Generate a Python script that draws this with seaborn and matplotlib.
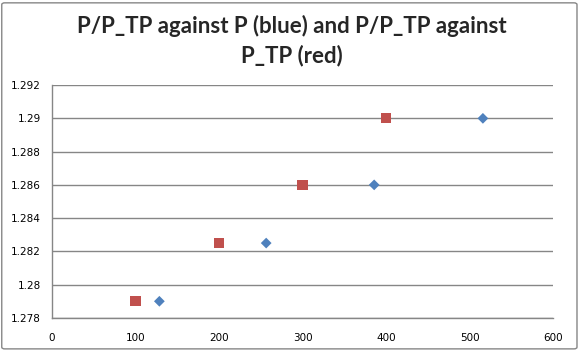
import matplotlib
matplotlib.use("Agg")
import matplotlib.pyplot as plt
import seaborn as sns
import pandas as pd
from matplotlib.patches import FancyBboxPatch

# data
ratio = [1.279, 1.2825, 1.286, 1.29]
p_values = [128.6, 256.5, 385.8, 516.0]
p_tp_values = [100, 200, 300, 400]

df = pd.concat([
    pd.DataFrame({"x": p_values, "y": ratio, "series": "P"}),
    pd.DataFrame({"x": p_tp_values, "y": ratio, "series": "P_TP"}),
])

sns.set_style("white")
plt.rcParams["font.family"] = ["DejaVu Sans"]

fig = plt.figure(figsize=(5.84, 3.56), dpi=100)
ax = fig.add_axes([0.089, 0.107, 0.858, 0.654])

sns.scatterplot(data=df, x="x", y="y", hue="series", style="series", size="series",
                markers={"P": "D", "P_TP": "s"},
                palette={"P": "#4F81BD", "P_TP": "#C0504D"},
                sizes={"P": 30, "P_TP": 54}, linewidth=0, legend=False, ax=ax)

ax.set_xlim(0, 600)
ax.set_ylim(1.278, 1.292)
ax.set_xticks(range(0, 601, 100))
yt = [1.278, 1.28, 1.282, 1.284, 1.286, 1.288, 1.29, 1.292]
ax.set_yticks(yt)
ax.set_yticklabels([f"{v:g}" for v in yt])
ax.set_xlabel("")
ax.set_ylabel("")
ax.yaxis.grid(True, color="#868686", linewidth=1)
ax.xaxis.grid(False)
ax.set_axisbelow(True)
for side in ["top", "right"]:
    ax.spines[side].set_visible(False)
for side in ["left", "bottom"]:
    ax.spines[side].set_color("#868686")
    ax.spines[side].set_linewidth(1)
ax.tick_params(axis="both", direction="out", length=5, width=1, color="#868686",
               labelsize=7.5, labelcolor="black", pad=3)
ax.tick_params(axis="x", pad=6)

title_font = dict(ha="center", va="baseline", fontsize=16, fontweight="bold",
                  family=["Lato", "DejaVu Sans"])
fig.text(0.5, 0.907, "P/P_TP against P (blue) and P/P_TP against", **title_font)
fig.text(0.5, 0.826, "P_TP (red)", **title_font)

border = FancyBboxPatch((0.003, 0.02), 0.985, 0.972, boxstyle="round,pad=0,rounding_size=0.005",
                        transform=fig.transFigure, fill=False, edgecolor="#868686", linewidth=1)
fig.patches.append(border)

fig.savefig("out.png", dpi=100)
